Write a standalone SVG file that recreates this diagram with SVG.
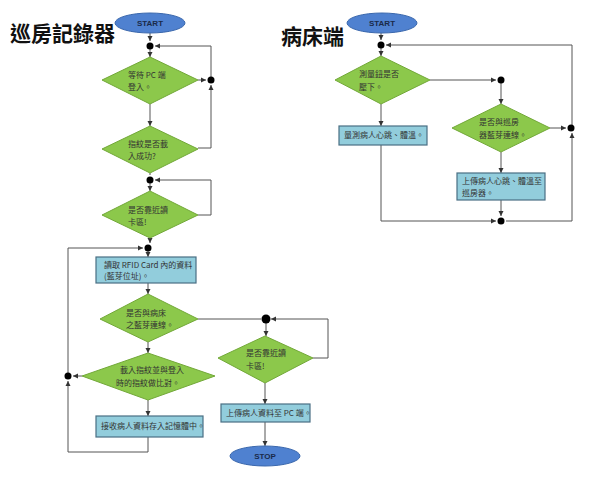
<svg xmlns="http://www.w3.org/2000/svg" width="600" height="491" viewBox="0 0 600 491">
<style>
.d{fill:#8cc84b;stroke:#72a838;stroke-width:1}
.r{fill:#92cddc;stroke:#4a6f84;stroke-width:1.2}
.e{fill:#4f81d0;stroke:#3b68ad;stroke-width:1}
.t{font-family:"Noto Sans CJK TC","Liberation Sans",sans-serif;font-size:8px;fill:#333}
.s{font-family:"Liberation Sans",sans-serif;font-size:8px;font-weight:bold;fill:#1a2a4a}
.h{font-family:"Noto Sans CJK TC",sans-serif;font-size:21px;font-weight:bold;fill:#111}
.c path{fill:none;stroke:#555;stroke-width:1}
.dot{fill:#000}
</style>
<defs><marker id="a" markerWidth="6" markerHeight="6" refX="5" refY="3" orient="auto" markerUnits="userSpaceOnUse"><path d="M0,0.5L5,3L0,5.5Z" fill="#333"/></marker></defs>
<rect width="600" height="491" fill="#fff"/>
<text class="h" x="10" y="41">巡房記錄器</text>
<text class="h" x="281" y="44">病床端</text>
<g class="c">
<path d="M150,33V41" marker-end="url(#a)"/>
<path d="M150,46V57" marker-end="url(#a)"/>
<path d="M198,80H206" marker-end="url(#a)"/>
<path d="M150,104V126" marker-end="url(#a)"/>
<path d="M198,148H211V85" marker-end="url(#a)"/>
<path d="M211,80V46H155" marker-end="url(#a)"/>
<path d="M150,173V175" />
<path d="M150,180V191" marker-end="url(#a)"/>
<path d="M198,215H211V180H155" marker-end="url(#a)"/>
<path d="M150,238V243" marker-end="url(#a)"/>
<path d="M148,248V257" marker-end="url(#a)"/>
<path d="M148,283V294" marker-end="url(#a)"/>
<path d="M148,342V353" marker-end="url(#a)"/>
<path d="M82,376H73" marker-end="url(#a)"/>
<path d="M148,400V416" marker-end="url(#a)"/>
<path d="M148,437V452H68V381" marker-end="url(#a)"/>
<path d="M68,376V248H143" marker-end="url(#a)"/>
<path d="M198,319H261"/>
<path d="M266,319V336" marker-end="url(#a)"/>
<path d="M313,358H328V319H271" marker-end="url(#a)"/>
<path d="M265,383V404" marker-end="url(#a)"/>
<path d="M265,422V446" marker-end="url(#a)"/>
<path d="M381,33V40" marker-end="url(#a)"/>
<path d="M381,45V56" marker-end="url(#a)"/>
<path d="M430,80H496" marker-end="url(#a)"/>
<path d="M381,104V126" marker-end="url(#a)"/>
<path d="M501,80V104" marker-end="url(#a)"/>
<path d="M550,128H566" marker-end="url(#a)"/>
<path d="M501,152V173" marker-end="url(#a)"/>
<path d="M381,145V221H496" marker-end="url(#a)"/>
<path d="M501,200V216" marker-end="url(#a)"/>
<path d="M506,221H572V133" marker-end="url(#a)"/>
<path d="M572,128V45H386" marker-end="url(#a)"/>
</g>
<g id="dots">
<circle class="dot" cx="150" cy="46" r="3.5"/><circle class="dot" cx="211" cy="80" r="3.5"/>
<circle class="dot" cx="150" cy="180" r="3.5"/><circle class="dot" cx="148" cy="248" r="3.5"/>
<circle class="dot" cx="68" cy="376" r="3.5"/><circle class="dot" cx="266" cy="319" r="4.5"/>
<circle class="dot" cx="381" cy="45" r="3.5"/><circle class="dot" cx="501" cy="80" r="3.5"/>
<circle class="dot" cx="571" cy="128" r="3.5"/><circle class="dot" cx="501" cy="221" r="3.5"/>
</g>
<g id="start1"><ellipse class="e" cx="150" cy="23" rx="35" ry="10"/><text class="s" x="150" y="26" text-anchor="middle">START</text></g>
<g id="d1"><polygon class="d" points="150,57 198,80 150,104 102,80"/><text class="t" x="128" y="78">等待 PC 端</text><text class="t" x="128" y="90">登入。</text></g>
<g id="d2"><polygon class="d" points="150,126 198,149 150,173 102,149"/><text class="t" x="128" y="147">指紋是否載</text><text class="t" x="128" y="159">入成功?</text></g>
<g id="d3"><polygon class="d" points="150,191 198,215 150,238 102,215"/><text class="t" x="128" y="213">是否靠近讀</text><text class="t" x="128" y="225">卡區!</text></g>
<g id="r1"><rect class="r" x="96" y="257" width="100" height="26"/><text class="t" x="104" y="268">讀取 RFID Card 內的資料</text><text class="t" x="104" y="279">(藍芽位址)。</text></g>
<g id="d4"><polygon class="d" points="148,294 198,319 148,342 100,319"/><text class="t" x="126" y="316">是否與病床</text><text class="t" x="126" y="328">之藍芽連線。</text></g>
<g id="d5"><polygon class="d" points="148,353 215,376 148,400 82,376"/><text class="t" x="120" y="373">載入指紋並與登入</text><text class="t" x="116" y="386">時的指紋做比對。</text></g>
<g id="r4"><rect class="r" x="96" y="416" width="107" height="21"/><text class="t" x="101" y="429">接收病人資料存入記憶體中。</text></g>
<g id="d6"><polygon class="d" points="265,336 313,358 265,383 218,358"/><text class="t" x="246" y="356">是否靠近讀</text><text class="t" x="246" y="369">卡區!</text></g>
<g id="r6"><rect class="r" x="221" y="404" width="89" height="18"/><text class="t" x="226" y="416">上傳病人資料至 PC 端。</text></g>
<g id="stop"><ellipse class="e" cx="265" cy="456" rx="35" ry="10"/><text class="s" x="265" y="459" text-anchor="middle" font-weight="normal">STOP</text></g>
<g id="start2"><ellipse class="e" cx="382" cy="23" rx="35" ry="10"/><text class="s" x="382" y="26" text-anchor="middle">START</text></g>
<g id="dA"><polygon class="d" points="381,56 430,80 381,104 335,80"/><text class="t" x="359" y="77">測量鈕是否</text><text class="t" x="359" y="90">壓下。</text></g>
<g id="dB"><polygon class="d" points="501,104 550,128 501,152 452,128"/><text class="t" x="479" y="125">是否與巡房</text><text class="t" x="479" y="138">器藍芽連線。</text></g>
<g id="rA"><rect class="r" x="339" y="126" width="88" height="19"/><text class="t" x="344" y="138">量測病人心跳、體溫。</text></g>
<g id="rB"><rect class="r" x="457" y="173" width="88" height="27"/><text class="t" x="462" y="184">上傳病人心跳、體溫至</text><text class="t" x="462" y="196">巡房器。</text></g>
</svg>
